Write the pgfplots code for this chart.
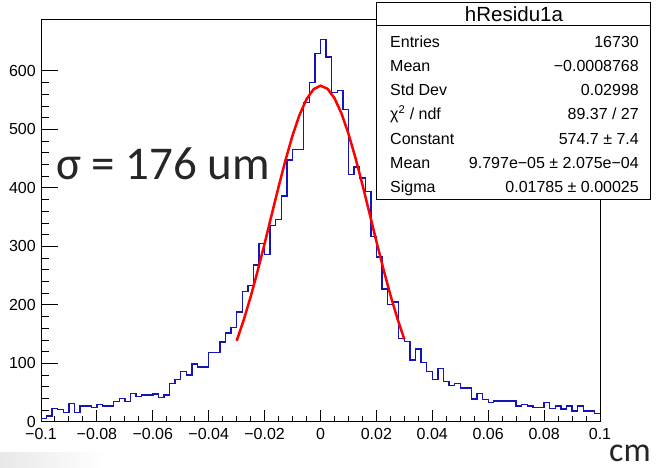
\documentclass[border=0pt]{standalone}
\usepackage{fontspec}
\setmainfont{Liberation Sans}
\newfontfamily\carlito{Carlito}
\usepackage{pgfplots}
\pgfplotsset{compat=1.18}
\definecolor{histblue}{RGB}{20,20,185}
\definecolor{slidetext}{RGB}{38,38,38}
\begin{document}
\begin{tikzpicture}
\path[use as bounding box] (0pt,0pt) rectangle (656pt,468pt);
\shade[left color=black!9, right color=white] (0pt,0pt) rectangle (105pt,15pt);
% main axis: frame, x ticks, histogram, fit
\begin{axis}[
  at={(41pt,46pt)}, anchor=south west,
  scale only axis, width=559pt, height=402pt,
  xmin=-0.1, xmax=0.1, ymin=0, ymax=687,
  axis line style={line width=1pt},
  xtick={-0.1,-0.08,-0.06,-0.04,-0.02,0,0.02,0.04,0.06,0.08,0.1},
  xticklabels={−0.1,−0.08,−0.06,−0.04,−0.02,0,0.02,0.04,0.06,0.08,0.1},
  minor x tick num=3,
  ytick=\empty,
  xtick pos=left,
  tick align=inside,
  major tick length=12pt, minor tick length=6pt,
  every tick/.style={black, line width=1pt},
  xticklabel style={inner sep=0pt, anchor=north, yshift=-6pt, font=\fontsize{16}{18}\selectfont},
  clip=false,
]
\addplot[const plot, draw=histblue, line width=1.4pt, line join=miter, mark=none] coordinates {
(-0.100,6) (-0.098,10) (-0.096,23) (-0.094,21) (-0.092,16) (-0.090,32) (-0.088,16) (-0.086,27) (-0.084,27) (-0.082,25)
(-0.080,30) (-0.078,27) (-0.076,27) (-0.074,35) (-0.072,40) (-0.070,35) (-0.068,49) (-0.066,44) (-0.064,46) (-0.062,46)
(-0.060,48) (-0.058,42) (-0.056,46) (-0.054,66) (-0.052,73) (-0.050,86) (-0.048,80) (-0.046,99) (-0.044,94) (-0.042,94)
(-0.040,119) (-0.038,119) (-0.036,137) (-0.034,152) (-0.032,162) (-0.030,188) (-0.028,223) (-0.026,233) (-0.024,268) (-0.022,305)
(-0.020,286) (-0.018,336) (-0.016,346) (-0.014,386) (-0.012,448) (-0.010,466) (-0.008,466) (-0.006,546) (-0.004,580) (-0.002,630)
(0.000,654) (0.002,624) (0.004,563) (0.006,566) (0.008,534) (0.010,423) (0.012,436) (0.014,417) (0.016,394) (0.018,317)
(0.020,282) (0.022,227) (0.024,201) (0.026,205) (0.028,143) (0.030,138) (0.032,106) (0.034,125) (0.036,102) (0.038,86)
(0.040,73) (0.042,91) (0.044,69) (0.046,62) (0.048,66) (0.050,58) (0.052,58) (0.054,39) (0.056,49) (0.058,38)
(0.060,33) (0.062,36) (0.064,36) (0.066,36) (0.068,36) (0.070,27) (0.072,30) (0.074,27) (0.076,25) (0.078,25)
(0.080,33) (0.082,23) (0.084,27) (0.086,22) (0.088,27) (0.090,19) (0.092,27) (0.094,19) (0.096,19) (0.098,15)
(0.100,15)
};
\addplot[red, line width=2.5pt, mark=none] coordinates {
(-0.0300,138.7) (-0.0275,173.9) (-0.0250,213.9) (-0.0225,257.9) (-0.0200,304.9) (-0.0175,353.5)
(-0.0150,401.9) (-0.0125,448.0) (-0.0100,489.7) (-0.0075,524.9) (-0.0050,551.7) (-0.0025,568.6)
(0.0000,574.7) (0.0025,569.5) (0.0050,553.4) (0.0075,527.4) (0.0100,492.7) (0.0125,451.4)
(0.0150,405.6) (0.0175,357.3) (0.0200,308.7) (0.0225,261.5) (0.0250,217.2) (0.0275,176.9) (0.0300,141.3)
};
\end{axis}
% second axis: y ticks only
\begin{axis}[
  at={(41pt,46pt)}, anchor=south west,
  scale only axis, width=559pt, height=402pt,
  xmin=-0.1, xmax=0.1, ymin=0, ymax=687,
  axis line style={draw=none},
  xtick=\empty,
  ytick={0,100,200,300,400,500,600},
  yticklabels={0,100,200,300,400,500,600},
  minor y tick num=4,
  ytick pos=left,
  tick align=inside,
  major tick length=17pt, minor tick length=8.5pt,
  every tick/.style={black, line width=1pt},
  yticklabel style={inner sep=0pt, anchor=east, xshift=-5pt, font=\fontsize{16}{18}\selectfont},
]
\end{axis}
% statistics box
\draw[fill=white, line width=1pt] (376pt,268pt) rectangle (650pt,465.5pt);
\draw[line width=1pt] (376pt,442pt) -- (650pt,442pt);
\node[anchor=base, inner sep=0pt] at (514pt,446.5pt) {\fontsize{20.5}{23}\selectfont hResidu1a};
\begin{scope}[every node/.style={inner sep=0pt}]
\def\rowfont{\fontsize{16}{18}\selectfont}
\node[anchor=base west] at (390pt,420.6pt) {\rowfont Entries};
\node[anchor=base east] at (639pt,420.6pt) {\rowfont 16730};
\node[anchor=base west] at (390pt,396.8pt) {\rowfont Mean};
\node[anchor=base east] at (639pt,396.8pt) {\rowfont −0.0008768};
\node[anchor=base west] at (390pt,372.8pt) {\rowfont Std Dev};
\node[anchor=base east] at (639pt,372.8pt) {\rowfont 0.02998};
\node[anchor=base west] at (390pt,348.3pt) {\rowfont χ\textsuperscript{2} / ndf};
\node[anchor=base east] at (639pt,348.3pt) {\rowfont 89.37 / 27};
\node[anchor=base west] at (390pt,323.8pt) {\rowfont Constant};
\node[anchor=base east] at (639pt,323.8pt) {\rowfont 574.7 ± 7.4};
\node[anchor=base west] at (390pt,299.3pt) {\rowfont Mean};
\node[anchor=base east] at (639pt,299.3pt) {\rowfont 9.797e−05 ± 2.075e−04};
\node[anchor=base west] at (390pt,275.3pt) {\rowfont Sigma};
\node[anchor=base east] at (639pt,275.3pt) {\rowfont 0.01785 ± 0.00025};
\end{scope}
% slide annotations
\node[anchor=base west, inner sep=0pt, text=slidetext] at (56pt,288pt) {\carlito\fontsize{47}{50}\selectfont σ = 176 um};
\node[anchor=base west, inner sep=0pt, text=slidetext] at (609pt,6pt) {\carlito\fontsize{34}{38}\selectfont cm};
\end{tikzpicture}
\end{document}
